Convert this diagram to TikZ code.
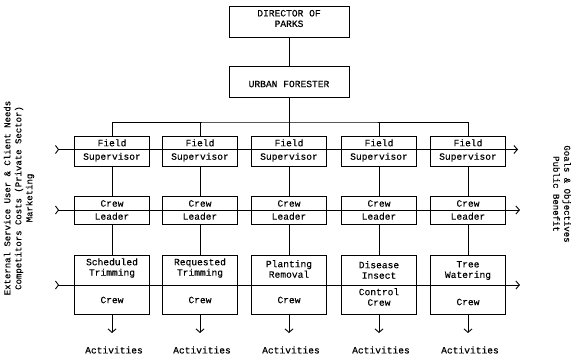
\documentclass[tikz,border=0pt]{standalone}
\usepackage{fontspec}
\setmainfont{Liberation Mono}[FakeBold=0.2]
\usetikzlibrary{arrows.meta}
\begin{document}
\begin{tikzpicture}[x=1pt,y=-1pt,
  box/.style={draw,line width=0.9pt,minimum width=75pt,inner sep=0pt},
  txt/.style={font=\fontsize{9.6}{10.5}\selectfont,align=center,inner sep=0pt},
  side/.style={font=\fontsize{9}{11}\selectfont,align=center,inner sep=0pt},
  ln/.style={line width=0.9pt},
  flow/.style={ln,{Straight Barb[reversed,length=3pt,width=8pt]}-{Straight Barb[length=3.5pt,width=8pt]}},
  down/.style={ln,-{Straight Barb[length=3.5pt,width=8pt]}},
]
\useasboundingbox (0,0) rectangle (573,356);

% top boxes
\node[box,minimum width=120pt,minimum height=31pt] (dir) at (289,21.5) {};
\node[txt] (dirT) at (289,18.5) {DIRECTOR OF\\PARKS};
\node[box,minimum width=120pt,minimum height=31pt] (fo) at (289,82) {};
\node[txt] (foT) at (289,84) {URBAN FORESTER};
\draw[ln] (dir.south) -- (fo.north);

% rows
\foreach \i/\x in {1/112,2/200,3/289,4/379,5/468}{
  \node[box,minimum height=30pt] (fs\i) at (\x,151) {};
  \node[txt] (fsT\i) at (\x,150.5) {Field\\[3pt]Supervisor};
  \node[box,minimum height=28pt] (cl\i) at (\x,210) {};
  \node[txt] (clT\i) at (\x,210) {Crew\\[2.5pt]Leader};
  \node[box,minimum height=59pt] (cr\i) at (\x,284.5) {};
  \coordinate (ar\i) at (\x,333);
  \node[txt] (act\i) at (\x+2,350) {Activities};
  \draw[ln] (fs\i.south) -- (cl\i.north);
  \draw[ln] (cl\i.south) -- (cr\i.north);
  \draw[down] (cr\i.south) -- (ar\i);
}
\node[txt] (u1) at (112,268) {Scheduled\\Trimming};
\node[txt] (u2) at (200,268) {Requested\\Trimming};
\node[txt] (u3) at (289,269) {Planting\\Removal};
\node[txt] (u4) at (379,270) {Disease\\Insect};
\node[txt] (u5) at (468,270.5) {Tree\\Watering};
\node[txt] (d1) at (112,300) {Crew};
\node[txt] (d2) at (200,300) {Crew};
\node[txt] (d3) at (289,300) {Crew};
\node[txt] (d4) at (379,297) {Control\\Crew};
\node[txt] (d5) at (468,302) {Crew};

% bus
\coordinate (bus) at (289,122);
\draw[ln] (fo.south) -- (fs3.north);
\draw[ln] (fs1.north) |- (bus) -| (fs5.north);
\draw[ln] (fs2.north) -- (fs2.north |- bus);
\draw[ln] (fs4.north) -- (fs4.north |- bus);

% flow lines
\coordinate (fL1) at (55,149.5);
\coordinate (fR1) at (518,149.5);
\coordinate (fL2) at (55,210);
\coordinate (fR2) at (520,210);
\coordinate (fL3) at (55,285);
\coordinate (fR3) at (520,285);
\draw[flow] (fL1) -- (fR1);
\draw[flow] (fL2) -- (fR2);
\draw[flow] (fL3) -- (fR3);

% side texts
\node[side,rotate=90] (left) at (19,198) {External Service User \& Client Needs\\Competitors Costs (Private Sector)\\Marketing};
\node[side,rotate=-90] (right) at (562,194) {Goals \& Objectives\\Public Benefit};
\end{tikzpicture}
\end{document}
